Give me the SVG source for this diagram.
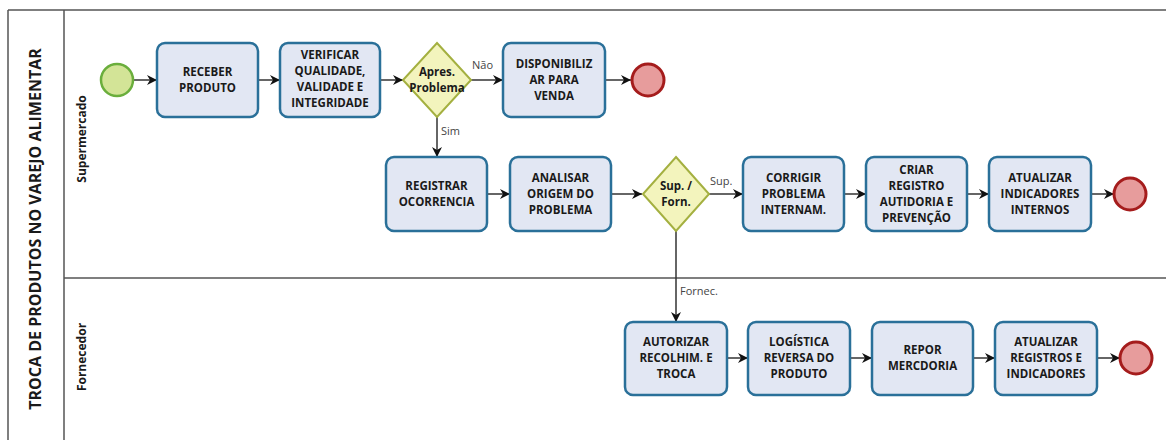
<svg xmlns="http://www.w3.org/2000/svg" width="1166" height="440" viewBox="0 0 1166 440">
<defs>
<style>
.pool{fill:none;stroke:#555;stroke-width:1.5}
.task rect{fill:#e2e7f3;stroke:#2a7099;stroke-width:2.5}
.task text,.gw text{font-family:"Open Sans","Liberation Sans",sans-serif;font-weight:700;font-size:11.5px;fill:#1a1a1a;text-anchor:middle}
.gw polygon{fill:#f3f4bd;stroke:#a4b040;stroke-width:2}
.start circle{fill:#d3e497;stroke:#6aae3c;stroke-width:2.5}
.end circle{fill:#e79c9c;stroke:#a51c1c;stroke-width:3}
.conn path{fill:none;stroke:#333;stroke-width:1.5;marker-end:url(#arr)}
.lbl{font-family:"Open Sans","Liberation Sans",sans-serif;font-size:11px;fill:#444}
.lane{font-family:"Open Sans","Liberation Sans",sans-serif;font-weight:700;font-size:12px;fill:#1a1a1a;text-anchor:middle}
.title{font-family:"Open Sans","Liberation Sans",sans-serif;font-weight:700;font-size:16px;fill:#1a1a1a;text-anchor:middle}
</style>
<marker id="arr" viewBox="0 0 10 10" refX="10" refY="5" markerWidth="10" markerHeight="10" markerUnits="userSpaceOnUse" orient="auto">
<path d="M0,0 L10,5 L0,10 L3,5 z" fill="#111"/>
</marker>
</defs>
<rect width="1166" height="440" fill="#fff"/>
<g id="pool">
<path class="pool" d="M8,10 H1166 M8,10 V440 M64,10 V440 M64,278 H1166"/>
<text class="title" transform="translate(41,229) rotate(-90)">TROCA DE PRODUTOS NO VAREJO ALIMENTAR</text>
<text class="lane" transform="translate(86,139) rotate(-90)">Supermercado</text>
<text class="lane" transform="translate(86,357) rotate(-90)">Fornecedor</text>
</g>
<g class="conn" id="connectors">
<path d="M133,80 H157"/>
<path d="M258,80 H280"/>
<path d="M380,80 H403"/>
<path d="M471,80 H503"/>
<path d="M605,80 H631"/>
<path d="M437,117 V157"/>
<path d="M487,194 H510"/>
<path d="M611,194 H642"/>
<path d="M709,194 H743"/>
<path d="M844,194 H866"/>
<path d="M967,194 H989"/>
<path d="M1091,194 H1114"/>
<path d="M676,230 V322"/>
<path d="M727,358 H748"/>
<path d="M850,358 H872"/>
<path d="M973,358 H995"/>
<path d="M1097,358 H1120"/>
<text class="lbl" x="472" y="69">Não</text>
<text class="lbl" x="441" y="135">Sim</text>
<text class="lbl" x="710" y="185">Sup.</text>
<text class="lbl" x="680" y="295">Fornec.</text>
</g>
<g id="start" class="start"><circle cx="117" cy="80" r="16"/></g>
<g id="t_receber" class="task"><rect x="157" y="43" width="101" height="74" rx="8"/><text x="207.5" y="76">RECEBER</text><text x="207.5" y="92">PRODUTO</text></g>
<g id="t_verificar" class="task"><rect x="280" y="43" width="100" height="74" rx="8"/><text x="330" y="59">VERIFICAR</text><text x="330" y="75">QUALIDADE,</text><text x="330" y="91">VALIDADE E</text><text x="330" y="107">INTEGRIDADE</text></g>
<g id="gw_problema" class="gw"><polygon points="437,43 471,80 437,117 403,80"/><text x="437" y="76">Apres.</text><text x="437" y="92">Problema</text></g>
<g id="t_disponibilizar" class="task"><rect x="503" y="43" width="102" height="74" rx="8"/><text x="554" y="68">DISPONIBILIZ</text><text x="554" y="84">AR PARA</text><text x="554" y="100">VENDA</text></g>
<g id="end1" class="end"><circle cx="648" cy="80" r="16"/></g>
<g id="t_registrar" class="task"><rect x="386" y="157" width="101" height="74" rx="8"/><text x="436.5" y="190">REGISTRAR</text><text x="436.5" y="206">OCORRENCIA</text></g>
<g id="t_analisar" class="task"><rect x="510" y="157" width="101" height="74" rx="8"/><text x="560.5" y="182">ANALISAR</text><text x="560.5" y="198">ORIGEM DO</text><text x="560.5" y="214">PROBLEMA</text></g>
<g id="gw_sup" class="gw"><polygon points="676,157 709,194 676,231 643,194"/><text x="676" y="190">Sup. /</text><text x="676" y="206">Forn.</text></g>
<g id="t_corrigir" class="task"><rect x="743" y="157" width="101" height="74" rx="8"/><text x="793.5" y="182">CORRIGIR</text><text x="793.5" y="198">PROBLEMA</text><text x="793.5" y="214">INTERNAM.</text></g>
<g id="t_criar" class="task"><rect x="866" y="157" width="101" height="74" rx="8"/><text x="916.5" y="174">CRIAR</text><text x="916.5" y="190">REGISTRO</text><text x="916.5" y="206">AUTIDORIA E</text><text x="916.5" y="222">PREVENÇÃO</text></g>
<g id="t_atualizar_int" class="task"><rect x="989" y="157" width="102" height="74" rx="8"/><text x="1040" y="182">ATUALIZAR</text><text x="1040" y="198">INDICADORES</text><text x="1040" y="214">INTERNOS</text></g>
<g id="end2" class="end"><circle cx="1130" cy="194" r="16"/></g>
<g id="t_autorizar" class="task"><rect x="625" y="322" width="102" height="73" rx="8"/><text x="676" y="346">AUTORIZAR</text><text x="676" y="362">RECOLHIM. E</text><text x="676" y="378">TROCA</text></g>
<g id="t_logistica" class="task"><rect x="748" y="322" width="102" height="73" rx="8"/><text x="799" y="346">LOGÍSTICA</text><text x="799" y="362">REVERSA DO</text><text x="799" y="378">PRODUTO</text></g>
<g id="t_repor" class="task"><rect x="872" y="322" width="101" height="73" rx="8"/><text x="922.5" y="354">REPOR</text><text x="922.5" y="370">MERCDORIA</text></g>
<g id="t_atualizar_reg" class="task"><rect x="995" y="322" width="102" height="73" rx="8"/><text x="1046" y="346">ATUALIZAR</text><text x="1046" y="362">REGISTROS E</text><text x="1046" y="378">INDICADORES</text></g>
<g id="end3" class="end"><circle cx="1136" cy="358" r="16"/></g>
</svg>
